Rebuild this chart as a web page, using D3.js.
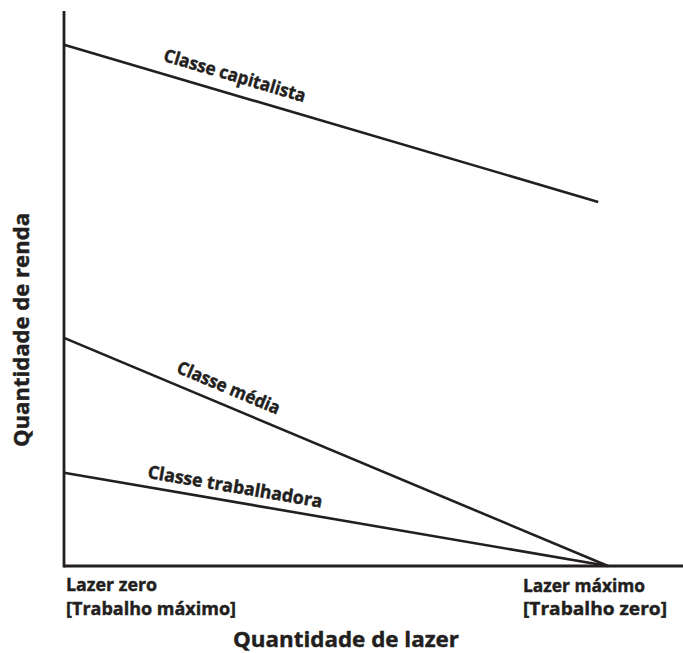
<!DOCTYPE html>
<html><head><meta charset="utf-8">
<script src="https://cdn.jsdelivr.net/npm/d3@7"></script>
<style>
html,body{margin:0;padding:0;background:#fff;}
text{font-family:"Open Sans",sans-serif;font-weight:700;fill:#231f20;stroke:#231f20;stroke-width:0.45px;}
</style></head>
<body>
<script>
// Data
const seriesNames = ["Classe capitalista", "Classe média", "Classe trabalhadora"];
const leisureValues = [[0, 0.982], [0, 1], [0, 1]];
const incomeValues = [[93.9, 65.6], [41.1, 0], [16.8, 0]];
const labelPositions = [0.31, 0.29, 0.31];
const labelOffsets = [12.5, 11.5, 9];
const labelLengths = [147, 110, 177];
const tickLabelsLeft = ["Lazer zero", "[Trabalho máximo]"];
const tickLabelsRight = ["Lazer máximo", "[Trabalho zero]"];
const tickLengthsLeft = [91, 170];
const tickLengthsRight = [122, 144];
const xTitle = "Quantidade de lazer";
const yTitle = "Quantidade de renda";

const W = 683, H = 653;
const svg = d3.select("body").append("svg").attr("width", W).attr("height", H);
const x = d3.scaleLinear().domain([0, 1]).range([64, 608]);
const y = d3.scaleLinear().domain([0, 100]).range([566, 11]);
const ink = "#231f20";

// axes
svg.append("line").attr("x1", x(0)).attr("x2", W).attr("y1", y(0)).attr("y2", y(0))
  .attr("stroke", ink).attr("stroke-width", 2.8);
svg.append("line").attr("x1", x(0)).attr("x2", x(0)).attr("y1", y(100)).attr("y2", y(0) + 1.4)
  .attr("stroke", ink).attr("stroke-width", 2.8);

const line = d3.line().x(d => x(d[0])).y(d => y(d[1]));
seriesNames.forEach((name, i) => {
  const pts = leisureValues[i].map((v, j) => [v, incomeValues[i][j]]);
  svg.append("path").attr("d", line(pts)).attr("fill", "none")
    .attr("stroke", ink).attr("stroke-width", 2.6);
  const x0 = x(pts[0][0]), y0 = y(pts[0][1]), x1 = x(pts[1][0]), y1 = y(pts[1][1]);
  const t = labelPositions[i];
  const px = x0 + (x1 - x0) * t, py = y0 + (y1 - y0) * t;
  const ang = Math.atan2(y1 - y0, x1 - x0) * 180 / Math.PI;
  svg.append("text").attr("transform", `translate(${px},${py}) rotate(${ang})`)
    .attr("y", -labelOffsets[i]).attr("text-anchor", "middle")
    .attr("font-size", 18).attr("textLength", labelLengths[i])
    .attr("lengthAdjust", "spacingAndGlyphs").text(name);
});

// tick labels
const tl = svg.append("g");
tickLabelsLeft.forEach((s, i) => {
  tl.append("text").attr("x", 66).attr("y", 591 + i * 23.5).attr("font-size", 18.5)
    .attr("textLength", tickLengthsLeft[i]).attr("lengthAdjust", "spacingAndGlyphs").text(s);
});
tickLabelsRight.forEach((s, i) => {
  tl.append("text").attr("x", 523).attr("y", 591.5 + i * 23.5).attr("font-size", 18.5)
    .attr("textLength", tickLengthsRight[i]).attr("lengthAdjust", "spacingAndGlyphs").text(s);
});

// titles
svg.append("text").attr("x", 346).attr("y", 647).attr("text-anchor", "middle")
  .attr("font-size", 21.5).attr("textLength", 226).attr("lengthAdjust", "spacingAndGlyphs").text(xTitle);
svg.append("text").attr("transform", "translate(29,330) rotate(-90)").attr("text-anchor", "middle")
  .attr("font-size", 21.5).attr("textLength", 234).attr("lengthAdjust", "spacingAndGlyphs").text(yTitle);
</script>
</body></html>
